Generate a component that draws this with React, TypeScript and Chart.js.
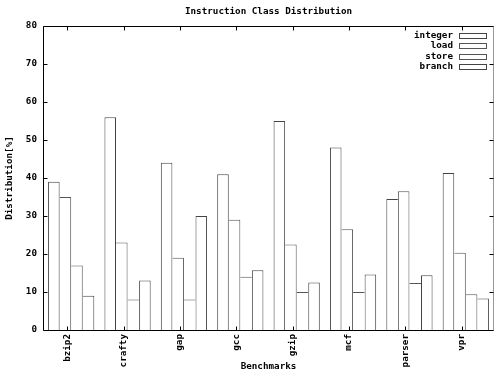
import React, { useEffect, useRef } from "react";
import { Chart, registerables } from "chart.js";

Chart.register(...registerables);

const categories = ["bzip2", "crafty", "gap", "gcc", "gzip", "mcf", "parser", "vpr"];
const seriesNames = ["integer", "load", "store", "branch"];
const integerValues = [39, 56, 44, 41, 55, 48, 34.5, 41.3];
const loadValues = [35, 23, 19, 29, 22.5, 26.5, 36.5, 20.3];
const storeValues = [17, 8, 8, 14, 10, 10, 12.4, 9.4];
const branchValues = [9, 13, 30, 15.7, 12.5, 14.6, 14.4, 8.3];
const yMin = 0;
const yMax = 80;
const yStep = 10;
const chartTitle = "Instruction Class Distribution";
const xTitle = "Benchmarks";
const yTitle = "Distribution[%]";

const FAMILY = '"DejaVu Sans Mono", "Liberation Mono", monospace';
const FSIZE = 9.25;
const fontObj = { family: FAMILY, size: FSIZE, weight: "bold" as const, lineHeight: 1.2 };
const fontCss = `bold ${FSIZE}px ${FAMILY}`;

const gnuplotFrame = {
  id: "gnuplotFrame",
  afterDatasetsDraw(chart: any) {
    const { ctx, chartArea: a, scales } = chart;
    const L = Math.round(a.left) + 0.5;
    const R = Math.round(a.right) - 0.5;
    const T = Math.round(a.top) + 0.5;
    const B = Math.round(a.bottom) + 0.5;
    ctx.save();
    ctx.strokeStyle = "#000";
    ctx.lineWidth = 1;
    ctx.beginPath();
    ctx.moveTo(L, T);
    ctx.lineTo(R, T);
    ctx.moveTo(L, T);
    ctx.lineTo(L, B);
    ctx.lineTo(R, B);
    ctx.stroke();
    ctx.strokeStyle = "#999";
    ctx.beginPath();
    ctx.moveTo(R, T);
    ctx.lineTo(R, B);
    ctx.stroke();
    ctx.strokeStyle = "#000";
    ctx.beginPath();
    for (let v = yMin; v <= yMax; v += yStep) {
      const y = Math.round(scales.y.getPixelForValue(v)) + 0.5;
      ctx.moveTo(L, y);
      ctx.lineTo(L + 4, y);
      ctx.moveTo(R - 4, y);
      ctx.lineTo(R, y);
    }
    categories.forEach((_, i) => {
      const x = Math.round(scales.x.getPixelForValue(i) - 4) + 0.5;
      ctx.moveTo(x, B);
      ctx.lineTo(x, B - 4);
      ctx.moveTo(x, T);
      ctx.lineTo(x, T + 4);
    });
    ctx.stroke();

    ctx.fillStyle = "#000";
    ctx.font = fontCss;
    ctx.textAlign = "center";
    ctx.textBaseline = "middle";
    ctx.fillText(chartTitle, (a.left + a.right) / 2, 12);

    ctx.textAlign = "right";
    chart.data.datasets.forEach((ds: any, i: number) => {
      const cy = a.top + 9.5 + i * 10.3;
      ctx.fillStyle = "#000";
      ctx.fillText(ds.label, a.right - 41, cy);
      ctx.fillStyle = "#fff";
      ctx.strokeStyle = ds.borderColor;
      ctx.fillRect(a.right - 35, Math.round(cy - 2.5), 27, 5);
      ctx.strokeRect(a.right - 35 + 0.5, Math.round(cy - 2.5) + 0.5, 27, 5);
    });
    ctx.restore();
  },
};

export default function App() {
  const canvasRef = useRef<HTMLCanvasElement | null>(null);

  useEffect(() => {
    if (!canvasRef.current) return;
    const values = [integerValues, loadValues, storeValues, branchValues];
    const borders = ["#444", "#555", "#555", "#444"];
    const n = values.length;
    const chart = new Chart(canvasRef.current, {
      type: "bar",
      data: {
        labels: categories,
        datasets: seriesNames.map((name, i) => ({
          label: name,
          data: values[i],
          backgroundColor: "#ffffff",
          borderColor: borders[i],
          // each shared edge is drawn once, by the taller of the two bars
          borderWidth: (c: any) => {
            const j = c.dataIndex;
            const v = values[i][j];
            const left = i === 0 || v > values[i - 1][j] ? 1 : 0;
            const right = i === n - 1 || v >= values[i + 1][j] ? 1 : 0;
            return { top: 1, right, bottom: 0, left };
          },
          borderSkipped: false,
          categoryPercentage: 0.82,
          barPercentage: 1.0,
        })),
      },
      options: {
        responsive: false,
        animation: false,
        devicePixelRatio: 1,
        layout: { padding: { top: 26, right: 1, left: 0, bottom: 0 } },
        plugins: {
          legend: { display: false },
          title: { display: false },
          tooltip: { enabled: false },
        },
        scales: {
          x: {
            grid: { display: false, drawTicks: false },
            border: { display: false },
            ticks: {
              autoSkip: false,
              minRotation: 90,
              maxRotation: 90,
              padding: 4,
              labelOffset: -4,
              color: "#000",
              font: fontObj,
            },
            title: {
              display: true,
              text: xTitle,
              color: "#000",
              font: fontObj,
              padding: { top: 0, bottom: 2 },
            },
            afterFit: (scale: any) => {
              scale.height = 44;
            },
          },
          y: {
            min: yMin,
            max: yMax,
            grid: { display: false, drawTicks: false },
            border: { display: false },
            ticks: {
              stepSize: yStep,
              padding: 6,
              color: "#000",
              font: fontObj,
            },
            title: {
              display: true,
              text: yTitle,
              color: "#000",
              font: fontObj,
              padding: { top: 4, bottom: 4 },
            },
            afterFit: (scale: any) => {
              scale.width = 43;
            },
          },
        },
      },
      plugins: [gnuplotFrame],
    });
    return () => chart.destroy();
  }, []);

  return (
    <div style={{ position: "absolute", left: 0, top: 0, width: 495, height: 374, background: "#fff" }}>
      <canvas ref={canvasRef} width={495} height={374} />
    </div>
  );
}
